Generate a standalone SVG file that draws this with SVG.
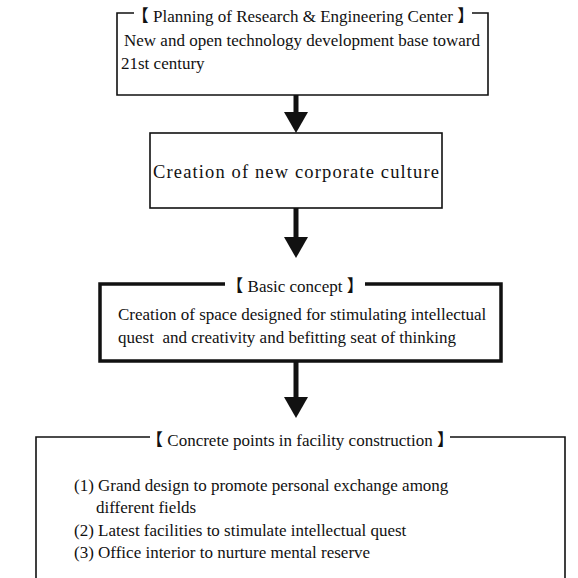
<svg xmlns="http://www.w3.org/2000/svg" width="578" height="578" viewBox="0 0 578 578">
  <style>
    text { font-family: "Liberation Serif", "Noto Sans CJK JP", serif; font-size: 17px; fill: #111; white-space: pre; }
    .title { text-anchor: middle; }
    .frame { fill: none; stroke: #111; stroke-width: 1.6; }
    .frame-bold { fill: none; stroke: #111; stroke-width: 3.5; }
    .shaft { stroke: #111; stroke-width: 5; fill: none; }
    .head { fill: #111; }
  </style>
  <rect width="578" height="578" fill="#fff"/>

  <!-- flow arrows -->
  <g id="connectors">
    <line class="shaft" x1="296" y1="95" x2="296" y2="115"/>
    <polygon class="head" points="284,112 308,112 296,133"/>
    <line class="shaft" x1="296" y1="208" x2="296" y2="240"/>
    <polygon class="head" points="284,237 308,237 296,258"/>
    <line class="shaft" x1="296" y1="361" x2="296" y2="400"/>
    <polygon class="head" points="284,397 308,397 296,418"/>
  </g>

  <!-- each framed block: open top edge broken by its bracketed heading -->
  <g id="planning">
    <path class="frame" d="M134,13 H117 V95 H488 V13 H472"/>
    <text class="title" x="303" y="22">【 Planning of Research &amp; Engineering Center 】</text>
    <text x="124" y="46">New and open technology development base toward</text>
    <text x="121" y="69">21st century</text>
  </g>

  <g id="culture">
    <rect class="frame" x="150" y="133" width="292" height="75"/>
    <text x="153" y="178" style="font-size:18.5px" textLength="286" lengthAdjust="spacing">Creation of new corporate culture</text>
  </g>

  <g id="basic-concept">
    <path class="frame-bold" d="M225,284 H100 V361 H501 V284 H365"/>
    <text class="title" x="295" y="292">【 Basic concept 】</text>
    <text x="118" y="320">Creation of space designed for stimulating intellectual</text>
    <text x="118" y="343">quest  and creativity and befitting seat of thinking</text>
  </g>

  <g id="concrete-points">
    <path class="frame" d="M150,437 H36 V590 M565,590 V437 H450"/>
    <text class="title" x="300" y="446">【 Concrete points in facility construction 】</text>
    <text x="74" y="491">(1) Grand design to promote personal exchange among</text>
    <text x="96" y="513">different fields</text>
    <text x="74" y="536">(2) Latest facilities to stimulate intellectual quest</text>
    <text x="74" y="558">(3) Office interior to nurture mental reserve</text>
  </g>
</svg>
